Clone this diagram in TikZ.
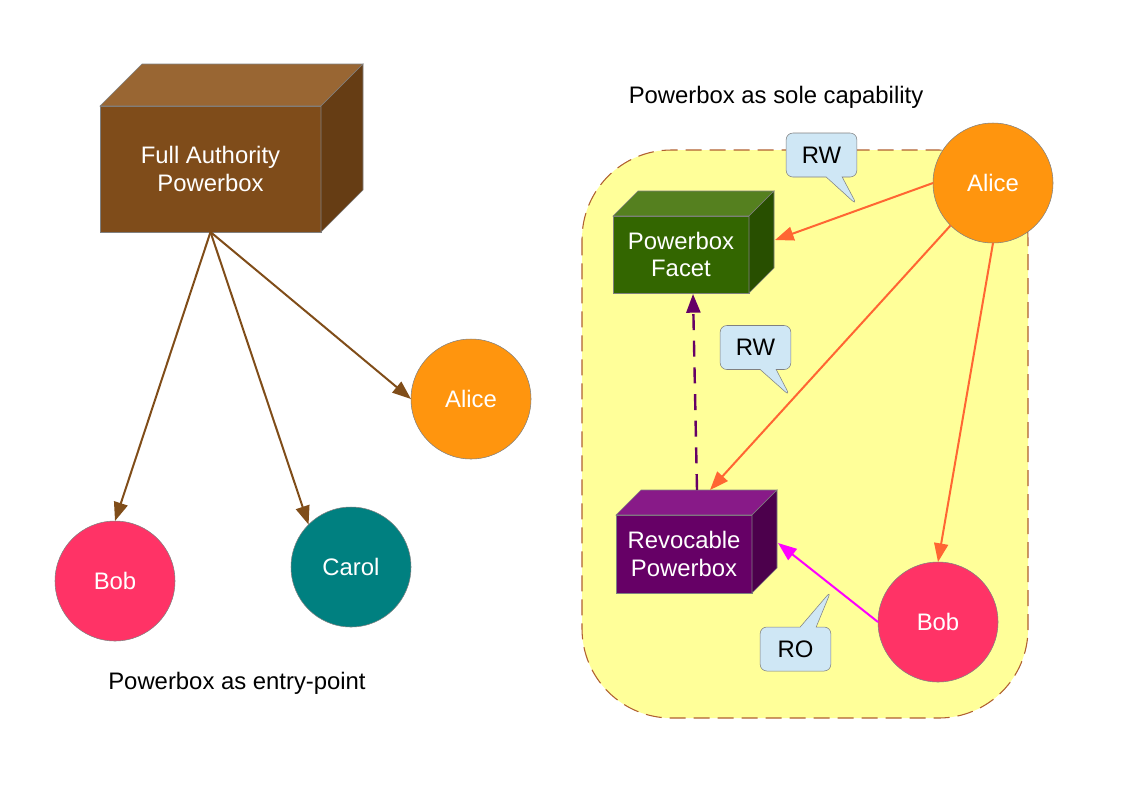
\documentclass[tikz,border=0pt]{standalone}
\usepackage{fontspec}
\setmainfont{Liberation Sans}
\usetikzlibrary{calc, arrows.meta, shapes.callouts}

\definecolor{brownfront}{RGB}{127,76,26}
\definecolor{browntop}{RGB}{153,102,51}
\definecolor{brownside}{RGB}{102,61,20}
\definecolor{greenfront}{RGB}{51,102,0}
\definecolor{greentop}{RGB}{85,128,31}
\definecolor{greenside}{RGB}{40,79,0}
\definecolor{purplefront}{RGB}{102,0,102}
\definecolor{purpletop}{RGB}{136,26,136}
\definecolor{purpleside}{RGB}{76,0,76}
\definecolor{alicecol}{RGB}{255,149,14}
\definecolor{bobcol}{RGB}{255,51,102}
\definecolor{carolcol}{RGB}{0,128,128}
\definecolor{bubblecol}{RGB}{207,231,245}
\definecolor{zonecol}{RGB}{255,255,153}
\definecolor{zoneline}{RGB}{176,96,48}
\definecolor{edgebrown}{RGB}{128,77,25}
\definecolor{edgeorange}{RGB}{255,102,51}
\definecolor{edgepink}{RGB}{255,0,255}
\definecolor{edgepurple}{RGB}{102,0,102}
\definecolor{rimgray}{RGB}{128,128,128}

% top and right faces of a box node: name, depth, top colour, side colour
\newcommand{\boxfaces}[4]{%
	\filldraw[draw=rimgray, fill=#3] (#1.north west) -- ++(#2,-#2) -- ($(#1.north east)+(#2,-#2)$) -- (#1.north east) -- cycle;
	\filldraw[draw=rimgray, fill=#4] (#1.north east) -- ++(#2,-#2) -- ($(#1.south east)+(#2,-#2)$) -- (#1.south east) -- cycle;
}

\begin{document}
\begin{tikzpicture}[x=0.75pt, y=-0.75pt, >={Triangle[length=14pt, width=10.5pt]}, font=\fontsize{17.9}{20.5}\selectfont]
				\tikzstyle{cube} = [draw=rimgray, rectangle, outer sep=0pt, text=white, align=center]
				\tikzstyle{person} = [draw=rimgray, circle, minimum size=90pt, inner sep=0pt, outer sep=0pt, text=white]
				\tikzstyle{bubble} = [draw=rimgray, fill=bubblecol, rectangle callout, rounded corners=5pt, minimum width=53pt, minimum height=33pt, callout pointer width=12pt]
				\tikzstyle{invis} = [draw=none]
				
				\useasboundingbox (0, 0) rectangle (1123, 794);
				
				% sole capability zone
				\filldraw[fill=zonecol, draw=zoneline, line width=0.8pt, dash pattern=on 12pt off 6pt, rounded corners=67pt] (582, 150) rectangle (1028, 718);
				
				% left side
				\node[cube, fill=brownfront, minimum width=165.75pt, minimum height=94.5pt] at (210.5, 169) (fa) {Full Authority\\Powerbox};
				\boxfaces{fa}{42}{browntop}{brownside}
				\node[person, fill=alicecol] 	at (471, 399) 	(aliceL) 	{Alice};
				\node[person, fill=bobcol] 		at (115, 581) 	(bobL) 		{Bob};
				\node[person, fill=carolcol] 	at (351, 567) 	(carol) 	{Carol};
				\node[invis] 	at (237, 683) 	(entry) 	{Powerbox as entry-point};
				
				% right side
				\node[cube, fill=greenfront, minimum width=102pt, minimum height=57.75pt] at (681, 254.5) (facet) {Powerbox\\Facet};
				\boxfaces{facet}{25}{greentop}{greenside}
				\node[cube, fill=purplefront, minimum width=102pt, minimum height=58.5pt] at (684, 554) (revoc) {Revocable\\Powerbox};
				\boxfaces{revoc}{25}{purpletop}{purpleside}
				\node[person, fill=alicecol] 	at (993, 183) 	(aliceR) 	{Alice};
				\node[person, fill=bobcol] 		at (938, 622) 	(bobR) 		{Bob};
				\node[invis] 	at (776, 97) 	(sole) 		{Powerbox as sole capability};
				
				\coordinate (facetSide) at (775, 240);
				\coordinate (facetBot) 	at (693, 294);
				\coordinate (revocTop) 	at (710, 490);
				\coordinate (revocMid) 	at (697, 490);
				\coordinate (revocSide) at (778, 543);
				
				\path[->, edgebrown, line width=1.5pt]
				(fa.south)	edge	(bobL.north)
				(fa.south)	edge	(carol.north west)
				(fa.south)	edge	(aliceL.west);
				
				\path[->, edgeorange, line width=1.5pt]
				(aliceR.west)		edge	(facetSide)
				(aliceR.south west)	edge	(revocTop)
				(aliceR.south)		edge	(bobR.north);
				
				\path[->, edgepink, line width=1.5pt]
				(bobR.west)	edge	(revocSide);
				
				\path[->, edgepurple, line width=1.8pt, dash pattern=on 12pt off 8pt]
				(revocMid)	edge	(facetBot);
				
				\node[bubble, callout absolute pointer={(857, 205)}] at (821.5, 155) (rw1) {RW};
				\node[bubble, callout absolute pointer={(790, 396)}] at (755.5, 347.5) (rw2) {RW};
				\node[bubble, callout absolute pointer={(831, 591)}] at (795.5, 649) (ro) {RO};
\end{tikzpicture}
\end{document}
